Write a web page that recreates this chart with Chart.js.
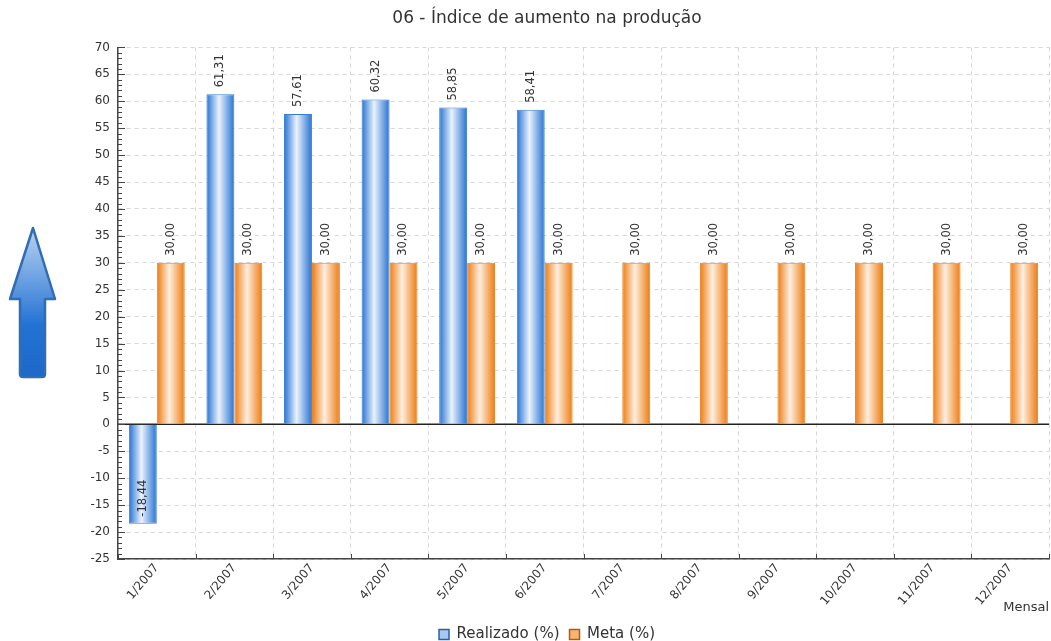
<!DOCTYPE html>
<html>
<head>
<meta charset="utf-8">
<script src="https://cdn.jsdelivr.net/npm/chart.js@4.4.0/dist/chart.umd.min.js"></script>
<style>
    body { margin: 0; background: #fff; }
    #wrap { position: relative; width: 1051px; height: 641px; }
    #seta { position: absolute; left: 6px; top: 225px; }
</style>
</head>
<body>
<div id="wrap">
    <svg id="seta" width="54" height="158" viewBox="0 0 54 158">
        <defs>
            <linearGradient id="gs" x1="0" y1="0" x2="0" y2="1">
                <stop offset="0" stop-color="#bcd3f1"/>
                <stop offset="0.65" stop-color="#2373d4"/>
                <stop offset="1" stop-color="#1d68c8"/>
            </linearGradient>
        </defs>
        <path d="M27,3 L49,74 L39,74 L39,149 Q39,152 36,152 L17,152 Q14,152 14,149 L14,74 L4,74 Z"
              fill="url(#gs)" stroke="#2f6db5" stroke-width="2.5" stroke-linejoin="round"/>
    </svg>
    <canvas id="grafico"></canvas>
</div>
<script>
const meses = ["1/2007", "2/2007", "3/2007", "4/2007", "5/2007", "6/2007",
    "7/2007", "8/2007", "9/2007", "10/2007", "11/2007", "12/2007"];
const realizado = [-18.44, 61.31, 57.61, 60.32, 58.85, 58.41, null, null, null, null, null, null];
const meta = [30, 30, 30, 30, 30, 30, 30, 30, 30, 30, 30, 30];

const CAT_PCT = 0.72;
const fonte = "'DejaVu Sans', 'Liberation Sans', sans-serif";

// Degradê horizontal em cada barra (escuro nas bordas, claro no meio)
function gradiente(escuro, claro) {
    return function (c) {
        if (c.type !== "data") return escuro;
        const chart = c.chart;
        const x = chart.scales.x;
        if (!x || !x.width) return escuro;
        const cat = x.width / meses.length;
        const larg = cat * CAT_PCT / 2;
        const centro = x.getPixelForValue(c.dataIndex);
        const esq = c.datasetIndex === 0 ? centro - larg : centro;
        const g = chart.ctx.createLinearGradient(esq, 0, esq + larg, 0);
        g.addColorStop(0, escuro);
        g.addColorStop(0.45, claro);
        g.addColorStop(1, escuro);
        return g;
    };
}

function formatar(v) {
    return v.toFixed(2).replace(".", ",");
}

// Rótulos de valor girados, linha do zero e marcas menores dos eixos
const extras = {
    id: "extras",
    beforeDatasetsDraw(chart) {
        const { ctx, chartArea, scales: { y } } = chart;
        const y0 = y.getPixelForValue(0);
        ctx.save();
        ctx.strokeStyle = "#222";
        ctx.lineWidth = 1.5;
        ctx.beginPath();
        ctx.moveTo(chartArea.left, y0);
        ctx.lineTo(chartArea.right, y0);
        ctx.stroke();
        ctx.restore();
    },
    afterDatasetsDraw(chart) {
        const { ctx } = chart;
        ctx.save();
        ctx.font = "11.5px " + fonte;
        ctx.fillStyle = "#333";
        ctx.textAlign = "left";
        ctx.textBaseline = "middle";
        chart.data.datasets.forEach((ds, i) => {
            const metaDs = chart.getDatasetMeta(i);
            metaDs.data.forEach((el, j) => {
                const v = ds.data[j];
                if (v === null || v === undefined) return;
                ctx.save();
                ctx.translate(el.x, el.y - 7);
                ctx.rotate(-Math.PI / 2);
                ctx.fillText(formatar(v), 0, 0);
                ctx.restore();
            });
        });
        ctx.restore();
    },
    afterDraw(chart) {
        const { ctx, chartArea, scales: { x, y } } = chart;
        ctx.save();
        ctx.strokeStyle = "#444";
        ctx.lineWidth = 1;
        for (let v = -25; v <= 70; v++) {
            const py = Math.round(y.getPixelForValue(v)) + 0.5;
            const len = v % 5 === 0 ? 7 : 4;
            ctx.beginPath();
            ctx.moveTo(chartArea.left, py);
            ctx.lineTo(chartArea.left + len, py);
            ctx.stroke();
        }
        const cat = x.width / meses.length;
        for (let i = 0; i <= meses.length; i++) {
            const px = Math.round(chartArea.left + i * cat) + 0.5;
            ctx.beginPath();
            ctx.moveTo(px, chartArea.bottom);
            ctx.lineTo(px, chartArea.bottom - 5);
            ctx.stroke();
        }
        ctx.restore();
    }
};

Chart.defaults.font.family = fonte;
Chart.defaults.color = "#333";

const ctx = document.getElementById("grafico").getContext("2d");
const chart = new Chart(ctx, {
    type: "bar",
    data: {
        labels: meses,
        datasets: [{
            label: "Realizado (%)",
            data: realizado,
            backgroundColor: gradiente("#2472d2", "#eaf2fd"),
            borderColor: "#3a7fcf",
            borderWidth: 1,
            categoryPercentage: CAT_PCT,
            barPercentage: 1,
        }, {
            label: "Meta (%)",
            data: meta,
            backgroundColor: gradiente("#ee7a0e", "#fdefe0"),
            borderColor: "#e98020",
            borderWidth: 1,
            categoryPercentage: CAT_PCT,
            barPercentage: 1,
        }],
    },
    options: {
        responsive: true,
        maintainAspectRatio: false,
        animation: false,
        layout: {
            padding: { left: 45, right: 2, top: 0, bottom: 0 },
        },
        plugins: {
            title: {
                display: true,
                text: "06 - Índice de aumento na produção",
                color: "#333",
                font: { size: 17, weight: "normal" },
                padding: { top: 8, bottom: 19 },
            },
            legend: {
                position: "bottom",
                maxHeight: 24,
                labels: {
                    boxWidth: 10,
                    boxHeight: 10,
                    padding: 10,
                    font: { size: 15 },
                    color: "#333",
                    generateLabels: function () {
                        return [
                            { text: "Realizado (%)", fillStyle: "#a9c9ef", strokeStyle: "#2a5fa8", lineWidth: 1.5, fontColor: "#333", datasetIndex: 0 },
                            { text: "Meta (%)", fillStyle: "#f6b673", strokeStyle: "#b85a08", lineWidth: 1.5, fontColor: "#333", datasetIndex: 1 },
                        ];
                    },
                },
            },
            tooltip: { enabled: false },
        },
        scales: {
            x: {
                grid: { color: "#d6d6d6", drawTicks: false, offset: true },
                border: { color: "#444", width: 1.5, dash: [4, 4] },
                ticks: { minRotation: 50, maxRotation: 50, padding: 2, font: { size: 12 }, color: "#333" },
                title: {
                    display: true,
                    text: "Mensal",
                    align: "end",
                    font: { size: 13 },
                    color: "#333",
                    padding: { top: 0, bottom: 2 },
                },
                afterFit: function (s) { s.height = 58; },
            },
            y: {
                min: -25,
                max: 70,
                grid: {
                    color: function (c) { return c.tick && c.tick.value === 0 ? "rgba(0,0,0,0)" : "#d6d6d6"; },
                    drawTicks: false,
                },
                border: { color: "#444", width: 1.5, dash: [4, 4] },
                ticks: { stepSize: 5, padding: 8, font: { size: 12 }, color: "#333" },
                afterFit: function (s) { s.width = 73; },
            },
        },
    },
    plugins: [extras],
});
</script>
</body>
</html>
